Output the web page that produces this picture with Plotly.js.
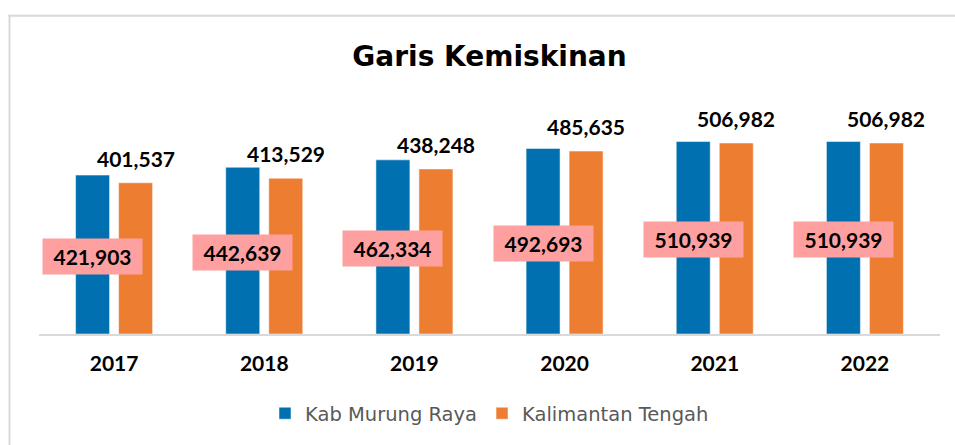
<!DOCTYPE html>
<html>
<head>
<meta charset="utf-8">
<script src="https://cdn.plot.ly/plotly-3.0.1.min.js"></script>
<style>
  html, body { margin: 0; padding: 0; background: #ffffff; overflow: hidden; }
  #chart { position: absolute; left: 0; top: 0; width: 955px; height: 445px; }
</style>
</head>
<body>
<div id="chart"></div>
<script>
const years = ['2017', '2018', '2019', '2020', '2021', '2022'];
const murungRaya = [421903, 442639, 462334, 492693, 510939, 510939];
const kalteng = [401537, 413529, 438248, 485635, 506982, 506982];
const seriesNames = ['Kab Murung Raya', 'Kalimantan Tengah'];
const chartTitle = 'Garis Kemiskinan';

const BLUE = '#0070B0';
const ORANGE = '#ED7D31';
const PINK = '#FFA0A0';
const FRAME = '#D9D9D9';
const fmt = v => v.toLocaleString('en-US');

const W = 955, H = 445;
const M = { l: 39, r: 15, t: 108, b: 108 };
const pw = W - M.l - M.r, ph = H - M.t - M.b;
// chart frame (left and top edges of the outer box), converted from page pixels to paper units
const fx = px => (px - M.l) / pw;
const fy = py => (H - M.b - py) / ph;

const traces = [
  { type: 'bar', name: seriesNames[0], x: years, y: murungRaya,
    marker: { color: BLUE, line: { color: 'rgba(255,255,255,0.5)', width: 1 } } },
  { type: 'bar', name: seriesNames[1], x: years, y: kalteng,
    marker: { color: ORANGE, line: { color: 'rgba(255,255,255,0.5)', width: 1 } } }
];

const annotations = [];
years.forEach((yr, i) => {
  annotations.push({
    x: i, y: murungRaya[i] / 2, xref: 'x', yref: 'y', xshift: -21.5, yshift: -2,
    text: '<b>' + fmt(murungRaya[i]) + '</b>', showarrow: false,
    bgcolor: PINK, width: 99, height: 35, borderpad: 0,
    font: { family: 'Lato', size: 21, color: '#000000' }
  });
  annotations.push({
    x: i, y: kalteng[i], xref: 'x', yref: 'y', xshift: 21.5, yshift: 10,
    yanchor: 'bottom',
    text: '<b>' + fmt(kalteng[i]) + '</b>', showarrow: false,
    font: { family: 'Lato', size: 21, color: '#000000' }
  });
});

const layout = {
  width: W, height: H,
  margin: M,
  paper_bgcolor: '#ffffff',
  plot_bgcolor: 'rgba(0,0,0,0)',
  title: { text: '<b>' + chartTitle + '</b>', x: 0.5, xref: 'paper', xanchor: 'center',
           y: 1 - 56 / 445, yanchor: 'middle', yref: 'container',
           font: { family: 'DejaVu Sans', size: 28, color: '#000000' } },
  barmode: 'group',
  bargap: 0.427,
  bargroupgap: 0.21,
  showlegend: true,
  legend: { orientation: 'h', x: 0.5, xanchor: 'center', y: -0.352, yanchor: 'middle',
            font: { family: 'DejaVu Sans', size: 19.5, color: '#595959' },
            traceorder: 'normal' },
  xaxis: { type: 'category', range: [-0.5, years.length - 0.5], autorange: false,
           showline: true, linecolor: '#D9D9D9', linewidth: 2,
           showgrid: false, ticks: '', ticklabelstandoff: 10,
           tickfont: { family: 'Lato', size: 21, color: '#000000' },
           tickprefix: '<b>', ticksuffix: '</b>' },
  yaxis: { range: [0, 600000], autorange: false, visible: false, showgrid: false, zeroline: false, fixedrange: true },
  annotations: annotations,
  shapes: [
    { type: 'line', xref: 'paper', yref: 'paper', x0: fx(9.5), x1: fx(9.5), y0: fy(13.5), y1: fy(H + 10),
      line: { color: FRAME, width: 2 } },
    { type: 'line', xref: 'paper', yref: 'paper', x0: fx(8.5), x1: fx(W + 10), y0: fy(14.5), y1: fy(14.5),
      line: { color: FRAME, width: 2 } }
  ],
  hovermode: false
};

Plotly.newPlot('chart', traces, layout, { displayModeBar: false });
</script>
</body>
</html>
